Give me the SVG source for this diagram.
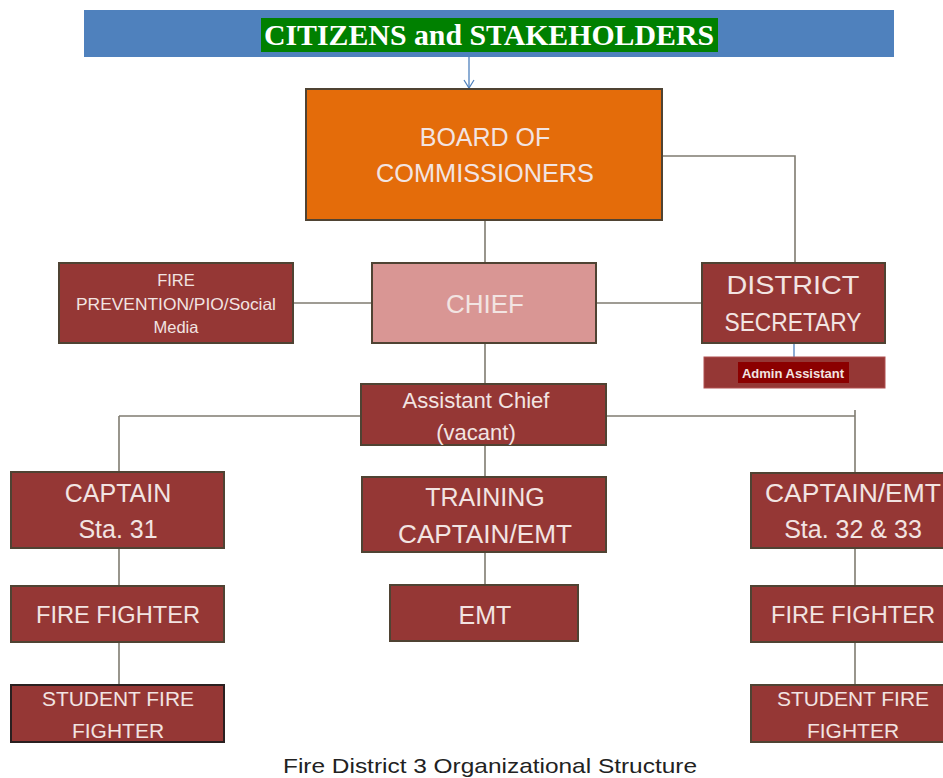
<svg xmlns="http://www.w3.org/2000/svg" width="943" height="778" viewBox="0 0 943 778">
<defs>
<style>
.box{fill:#953735;stroke:#4f4333;stroke-width:2}
.t{font-family:"Liberation Sans",Arial,sans-serif;fill:#f2e4e2;text-anchor:middle}
.ln{stroke:#7f7b70;stroke-width:1.6;fill:none}
</style>
<marker id="arr" markerWidth="12" markerHeight="12" refX="10" refY="6" orient="auto" markerUnits="userSpaceOnUse" viewBox="0 0 12 12">
<path d="M2,1 L10,6 L2,11" fill="none" stroke="#4f81bd" stroke-width="1.2"/>
</marker>
</defs>
<rect width="943" height="778" fill="#ffffff"/>

<g id="connectors">
<line x1="469" y1="57" x2="469" y2="88" stroke="#4f81bd" stroke-width="1.3" marker-end="url(#arr)"/>
<polyline class="ln" points="662,156 795,156 795,263"/>
<line class="ln" x1="485" y1="220" x2="485" y2="263"/>
<line class="ln" x1="293" y1="303" x2="372" y2="303"/>
<line class="ln" x1="596" y1="303" x2="702" y2="303"/>
<line x1="794" y1="343" x2="794" y2="357" stroke="#4f81bd" stroke-width="1.3"/>
<line class="ln" x1="485" y1="343" x2="485" y2="385"/>
<line class="ln" x1="119" y1="416" x2="361" y2="416"/>
<line class="ln" x1="606" y1="416" x2="855" y2="416"/>
<line class="ln" x1="119" y1="416" x2="119" y2="472"/>
<line class="ln" x1="855" y1="410" x2="855" y2="473"/>
<line class="ln" x1="485" y1="445" x2="485" y2="478"/>
<line class="ln" x1="119" y1="548" x2="119" y2="586"/>
<line class="ln" x1="119" y1="642" x2="119" y2="685"/>
<line class="ln" x1="485" y1="552" x2="485" y2="586"/>
<line class="ln" x1="855" y1="548" x2="855" y2="586"/>
<line class="ln" x1="855" y1="642" x2="855" y2="685"/>
</g>

<g id="citizens">
<rect x="84" y="10" width="810" height="47" fill="#4f81bd"/>
<rect x="261" y="18" width="457" height="34" fill="#008000"/>
<text x="489" y="45" font-family="'Liberation Serif','Times New Roman',serif" font-weight="bold" font-size="30" fill="#ffffff" text-anchor="middle" textLength="450" lengthAdjust="spacingAndGlyphs">CITIZENS  and STAKEHOLDERS</text>
</g>

<g id="board">
<rect x="306" y="89" width="356" height="131" fill="#e46c0a" stroke="#4f4333" stroke-width="2"/>
<text class="t" x="485" y="146" font-size="25" fill="#fde9d9">BOARD OF</text>
<text class="t" x="485" y="182" font-size="25" textLength="218" lengthAdjust="spacingAndGlyphs">COMMISSIONERS</text>
</g>

<g id="fire-prevention">
<rect class="box" x="59" y="263" width="234" height="80"/>
<text class="t" x="176" y="286" font-size="16.5">FIRE</text>
<text class="t" x="176" y="310" font-size="16.5" textLength="200" lengthAdjust="spacingAndGlyphs">PREVENTION/PIO/Social</text>
<text class="t" x="176" y="333" font-size="16.5">Media</text>
</g>

<g id="chief">
<rect x="372" y="263" width="224" height="80" fill="#d99694" stroke="#4f4333" stroke-width="2"/>
<text class="t" x="485" y="313" font-size="26" fill="#fbeeee">CHIEF</text>
</g>

<g id="district-secretary">
<rect class="box" x="702" y="263" width="183" height="80"/>
<text class="t" x="793" y="294" font-size="25" textLength="133" lengthAdjust="spacingAndGlyphs">DISTRICT</text>
<text class="t" x="793" y="331" font-size="25" textLength="137" lengthAdjust="spacingAndGlyphs">SECRETARY</text>
</g>

<g id="admin-assistant">
<rect x="704" y="357" width="181" height="31" fill="#953735" stroke="#b05050" stroke-width="1"/>
<rect x="738" y="362" width="111" height="21" fill="#8b0000"/>
<text class="t" x="793" y="378" font-size="13" font-weight="bold" fill="#f7eeee">Admin Assistant</text>
</g>

<g id="assistant-chief">
<rect class="box" x="361" y="384" width="245" height="61"/>
<text class="t" x="476" y="408" font-size="22" textLength="147" lengthAdjust="spacingAndGlyphs">Assistant Chief</text>
<text class="t" x="476" y="440" font-size="22">(vacant)</text>
</g>

<g id="captain-31">
<rect class="box" x="11" y="472" width="213" height="76"/>
<text class="t" x="118" y="502" font-size="25">CAPTAIN</text>
<text class="t" x="118" y="538" font-size="25">Sta. 31</text>
</g>

<g id="training-captain">
<rect class="box" x="362" y="477" width="244" height="75"/>
<text class="t" x="485" y="506" font-size="25">TRAINING</text>
<text class="t" x="485" y="543" font-size="25" textLength="174" lengthAdjust="spacingAndGlyphs">CAPTAIN/EMT</text>
</g>

<g id="captain-32-33">
<rect class="box" x="751" y="473" width="204" height="75"/>
<text class="t" x="853" y="502" font-size="25" textLength="176" lengthAdjust="spacingAndGlyphs">CAPTAIN/EMT</text>
<text class="t" x="853" y="538" font-size="25">Sta. 32 &amp; 33</text>
</g>

<g id="fire-fighter-left">
<rect class="box" x="11" y="586" width="213" height="56"/>
<text class="t" x="118" y="623" font-size="24" textLength="164" lengthAdjust="spacingAndGlyphs">FIRE FIGHTER</text>
</g>

<g id="emt">
<rect class="box" x="390" y="585" width="188" height="56"/>
<text class="t" x="485" y="624" font-size="25">EMT</text>
</g>

<g id="fire-fighter-right">
<rect class="box" x="751" y="586" width="204" height="56"/>
<text class="t" x="853" y="623" font-size="24" textLength="164" lengthAdjust="spacingAndGlyphs">FIRE FIGHTER</text>
</g>

<g id="student-left">
<rect x="11" y="685" width="213" height="57" fill="#953735" stroke="#2a2020" stroke-width="2"/>
<text class="t" x="118" y="706" font-size="21" textLength="152" lengthAdjust="spacingAndGlyphs">STUDENT FIRE</text>
<text class="t" x="118" y="738" font-size="21">FIGHTER</text>
</g>

<g id="student-right">
<rect class="box" x="751" y="685" width="204" height="57"/>
<text class="t" x="853" y="706" font-size="21" textLength="152" lengthAdjust="spacingAndGlyphs">STUDENT FIRE</text>
<text class="t" x="853" y="738" font-size="21">FIGHTER</text>
</g>

<text x="490" y="773" font-family="'Liberation Sans',Arial,sans-serif" font-size="21" fill="#222222" text-anchor="middle" textLength="414" lengthAdjust="spacingAndGlyphs">Fire District 3 Organizational Structure</text>
</svg>
